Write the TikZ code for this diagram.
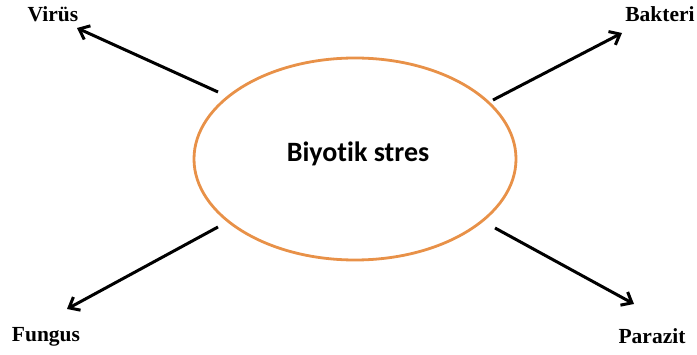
\documentclass[tikz,border=0pt]{standalone}
\usepackage{fontspec}
\setmainfont{Liberation Serif}
\newfontfamily\carl[Ligatures={NoCommon}]{Carlito}
\usetikzlibrary{arrows.meta}
\definecolor{ellorange}{RGB}{232,145,72}
\begin{document}
\begin{tikzpicture}[x=1pt,y=1pt,
  lbl/.style={anchor=base,font=\fontsize{21.5}{24}\selectfont\bfseries,inner sep=0pt},
  arr/.style={line width=3pt,-{Straight Barb[length=9pt,width=15pt,line width=3pt]}},
  ellbox/.style={draw=ellorange,line width=2.8pt}]
\useasboundingbox (0,0) rectangle (697,354);
\draw[ellbox] (355,195) ellipse [x radius=161, y radius=101];
\node[anchor=base,inner sep=0pt,font=\carl\fontsize{28}{32}\selectfont\bfseries] (bs) at (358,192) {Biyotik stres};
\node[lbl] (vir) at (53,332) {Virüs};
\node[lbl] (bak) at (660,332) {Bakteri};
\node[lbl] (fun) at (46,13) {Fungus};
\node[lbl] (par) at (652,11) {Parazit};
\coordinate (v0) at (218,262); \coordinate (v1) at (77,326);
\coordinate (b0) at (493,254); \coordinate (b1) at (622,321);
\coordinate (f0) at (218,127); \coordinate (f1) at (67,45);
\coordinate (p0) at (495,126); \coordinate (p1) at (634,50);
\draw[arr] (v0) -- (v1);
\draw[arr] (b0) -- (b1);
\draw[arr] (f0) -- (f1);
\draw[arr] (p0) -- (p1);
\end{tikzpicture}
\end{document}
